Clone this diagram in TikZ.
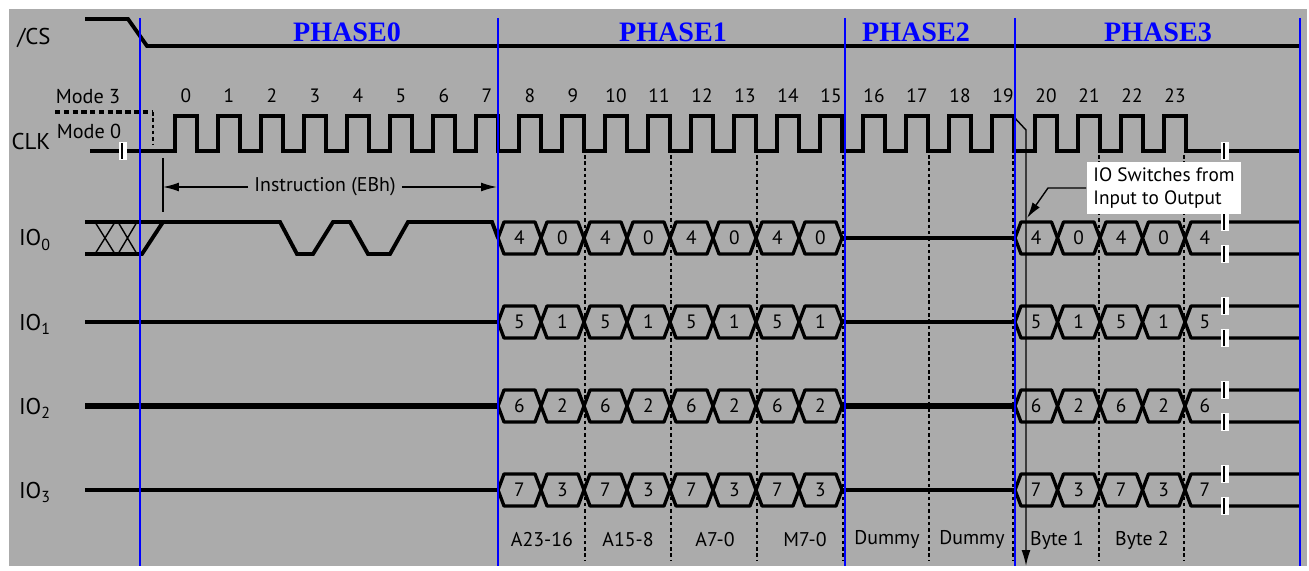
\documentclass[tikz,border=0pt]{standalone}
\usepackage{fontspec}
\setmainfont{PT Sans}
\newfontfamily\phasefont{Liberation Serif}
\usetikzlibrary{arrows.meta}
\definecolor{panelgray}{RGB}{171,171,171}
\definecolor{phaseblue}{RGB}{0,0,255}
\tikzset{
  sig/.style={line width=2.2pt},
  hexline/.style={line width=1.9pt, line join=round},
  thinline/.style={line width=0.8pt},
  phaseline/.style={draw=phaseblue, line width=1.1pt},
  edgetick/.style={line width=1.3pt, dash pattern=on 2pt off 1.6pt},
  signame/.style={font=\fontsize{13}{15}\selectfont},
  clknum/.style={font=\fontsize{11}{13}\selectfont},
  modelbl/.style={font=\fontsize{11.5}{13}\selectfont},
  hexdigit/.style={font=\fontsize{11}{12}\selectfont},
  fieldlbl/.style={font=\fontsize{11.3}{13}\selectfont},
  phaselbl/.style={text=phaseblue, font=\phasefont\bfseries\fontsize{16}{18}\selectfont}
}
\newcommand{\breakmark}[2]{%
  \fill[white] (#1-4,#2-9) rectangle (#1+4,#2+9);
  \draw[thinline] (#1-1,#2-8) -- (#1-1,#2+8);}
\begin{document}
\begin{tikzpicture}[x=0.02cm,y=-0.02cm]
\useasboundingbox (0,0) rectangle (1309,571);
\fill[panelgray] (9,9) rectangle (1307,566);

% signal names
\node[signame] (cs) at (34,38) {/CS};
\node[signame] (clk) at (31,142) {CLK};
\node[modelbl] (mode3) at (88,97) {Mode 3};
\node[modelbl] (mode0) at (89,131) {Mode 0};
\node[signame] (io0) at (35,240) {IO\textsubscript{0}};
\node[signame] (io1) at (35,324) {IO\textsubscript{1}};
\node[signame] (io2) at (35,408) {IO\textsubscript{2}};
\node[signame] (io3) at (35,492) {IO\textsubscript{3}};

% phase titles
\node[phaselbl] (phase0) at (347,32) {PHASE0};
\node[phaselbl] (phase1) at (673,32) {PHASE1};
\node[phaselbl] (phase2) at (916,32) {PHASE2};
\node[phaselbl] (phase3) at (1158,32) {PHASE3};

% chip select
\draw[sig] (85,19) -- (128,19) -- (147,46) -- (1300,46);

% clock
\draw[sig, dash pattern=on 3pt off 2pt] (55,112) -- (153,112);
\draw[edgetick] (153,112) -- (153,145);
\draw[sig] (90,151) -- (175,151)
  \foreach \n in {0,...,23} { -- (175+43*\n,151) -- (175+43*\n,116) -- (197+43*\n,116) -- (197+43*\n,151) }
  -- (1300,151);
\foreach \n in {0,...,23}
  \node[clknum] (n\n) at (186+43*\n,96) {\n};
\breakmark{123}{151}
\breakmark{1225}{151}

% instruction span
\coordinate (istart) at (163,187);
\coordinate (iend) at (497,187);
\draw[thinline] (163,158) -- (163,212);
\node[fieldlbl] (instr) at (325,187) {Instruction (EBh)};
\draw[thinline, -{Latex[length=9pt,width=5pt]}] (instr.west) -- (istart);
\draw[thinline, -{Latex[length=9pt,width=5pt]}] (instr.east) -- (iend);

% IO0 during the instruction
\draw[sig] (85,222) -- (280,222) -- (297,254) -- (313,254) -- (333,222) -- (350,222)
  -- (368,254) -- (390,254) -- (408,222) -- (492,222) -- (498,238);
\draw[sig] (85,254) -- (142,254) -- (163,222);
\draw[thinline] (95,222) -- (115,254) (95,254) -- (115,222)
  (118,222) -- (137,254) (118,254) -- (137,222);
\draw[sig] (843,238) -- (1015,238);

% IO1..IO3 idle
\foreach \m in {322,490} {
  \draw[sig] (85,\m) -- (498,\m);
  \draw[sig] (843,\m) -- (1015,\m);
}
\draw[line width=3pt] (85,406) -- (498,406);
\draw[line width=3pt] (843,406) -- (1015,406);

% address / mode and data nibbles
\foreach \m/\lo/\hi [count=\r from 0] in {238/4/0,322/5/1,406/6/2,490/7/3} {
  \foreach \i in {0,...,7} {
    \pgfmathsetmacro\xa{498+43*\i}
    \draw[hexline] (\xa,\m) -- (\xa+6,\m-16) -- (\xa+37,\m-16) -- (\xa+43,\m)
      -- (\xa+37,\m+16) -- (\xa+6,\m+16) -- cycle;
    \node[hexdigit] (a\r\i) at (\xa+21.5,\m) {\ifodd\i\relax\hi\else\lo\fi};
  }
  \foreach \i in {0,...,3} {
    \pgfmathsetmacro\xa{1015+42.5*\i}
    \draw[hexline] (\xa,\m) -- (\xa+6,\m-16) -- (\xa+36.5,\m-16) -- (\xa+42.5,\m)
      -- (\xa+36.5,\m+16) -- (\xa+6,\m+16) -- cycle;
    \node[hexdigit] (d\r\i) at (\xa+21.2,\m) {\ifodd\i\relax\hi\else\lo\fi};
  }
  \draw[hexline] (1300,\m-16) -- (1191,\m-16) -- (1185,\m) -- (1191,\m+16) -- (1300,\m+16);
  \node[hexdigit] (d\r4) at (1205,\m) {\lo};
  \breakmark{1225}{\m-16}
  \breakmark{1225}{\m+16}
}

% clock edge markers
\foreach \x in {585,671,757,843,929,1013,1099,1184}
  \draw[edgetick] (\x,155) -- (\x,560);

% field names
\node[fieldlbl] (f1) at (542,540) {A23-16};
\node[fieldlbl] (f2) at (628,540) {A15-8};
\node[fieldlbl] (f3) at (715,540) {A7-0};
\node[fieldlbl] (f4) at (805,540) {M7-0};
\node[fieldlbl] (f5) at (887,540) {Dummy};
\node[fieldlbl] (f6) at (972,540) {Dummy};
\node[fieldlbl] (f7) at (1057,540) {Byte 1};
\node[fieldlbl] (f8) at (1142,540) {Byte 2};

% bus turnaround
\coordinate (swtop) at (1013,116);
\coordinate (swbot) at (1026,566);
\draw[thinline, -{Latex[length=9pt,width=5pt]}] (swtop) -- (1026,130) -- (swbot);
\node[fill=white, align=left, inner sep=1.5pt, minimum width=3.1cm, minimum height=1.06cm,
  font=\fontsize{11}{13.5}\selectfont] (switch) at (1164,188) {IO Switches from\\Input to Output};
\coordinate (swtip) at (1027,218);
\draw[thinline, -{Latex[length=9pt,width=5pt]}] (switch.west) -- (1048,188) -- (swtip);

% phase boundaries
\foreach \x in {140,498,845,1015,1300}
  \draw[phaseline] (\x,18) -- (\x,566);
\end{tikzpicture}
\end{document}
